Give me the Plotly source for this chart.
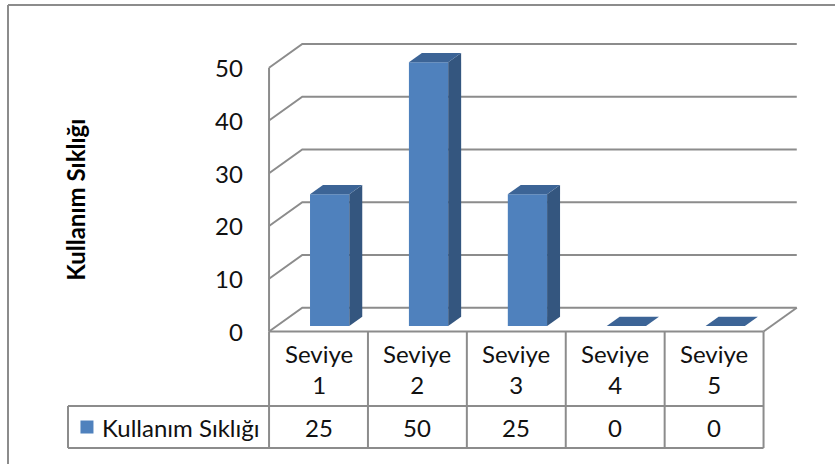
import plotly.graph_objects as go

# Data
categories = ["Seviye 1", "Seviye 2", "Seviye 3", "Seviye 4", "Seviye 5"]
values = [25, 50, 25, 0, 0]
series_name = "Kullanım Sıklığı"
y_ticks = [0, 10, 20, 30, 40, 50]
y_title = "Kullanım Sıklığı"

# Styling
FONT = "Lato"
GRID = "#8c8c8c"
FRONT = "#4f81bd"
SIDE = "#34567f"
TOP = "#3c6496"

# 3D depth vector of the walls (in axis units) and bar depth fractions
DX, DY = 0.336, 4.5
F1, F2 = 0.23, 0.62
BX, BW = -0.163, 0.397

# Axis ranges: one category per unit on x, value units on y
X_RANGE = [-3.2204, 5.2224]
Y_RANGE = [-25.11, 62.83]
X_LEFT, X_RIGHT = -0.5, len(categories) - 0.5
Y_ROW = -14.12      # separator between header row and value row
Y_BOT = -22.08      # bottom of data table
X_LEG = -2.533      # left edge of legend cell

fig = go.Figure()


def line(xs, ys, color=GRID, width=2):
    fig.add_trace(go.Scatter(x=xs, y=ys, mode="lines",
                             line=dict(color=color, width=width),
                             hoverinfo="skip", showlegend=False))


def poly(xs, ys, color):
    fig.add_trace(go.Scatter(x=xs + [xs[0]], y=ys + [ys[0]], mode="lines",
                             fill="toself", fillcolor=color,
                             line=dict(width=0, color=color),
                             hoverinfo="skip", showlegend=False))


# Walls: left wall diagonals + back wall gridlines
line([X_LEFT, X_LEFT], [0, max(y_ticks)])
for t in y_ticks:
    line([X_LEFT, X_LEFT + DX, X_RIGHT + DX], [t, t + DY, t + DY])
# Floor right edge
line([X_RIGHT, X_RIGHT + DX], [0, DY])

# Columns
ddx, ddy = (F2 - F1) * DX, (F2 - F1) * DY
for i, v in enumerate(values):
    x0 = i + BX + F1 * DX
    x1 = x0 + BW
    y0 = F1 * DY
    y1 = y0 + v
    if v > 0:
        poly([x0, x1, x1, x0], [y0, y0, y1, y1], FRONT)
        poly([x1, x1 + ddx, x1 + ddx, x1], [y0, y0 + ddy, y1 + ddy, y1], SIDE)
    poly([x0, x1, x1 + ddx, x0 + ddx], [y1, y1, y1 + ddy, y1 + ddy], TOP)

# Data table grid
line([X_LEFT, X_RIGHT], [0, 0])
for k in range(len(categories) + 1):
    line([X_LEFT + k, X_LEFT + k], [0, Y_BOT])
line([X_LEG, X_RIGHT], [Y_ROW, Y_ROW])
line([X_LEG, X_RIGHT], [Y_BOT, Y_BOT])
line([X_LEG, X_LEG], [Y_ROW, Y_BOT])

# Legend key inside the table
fig.add_trace(go.Scatter(x=[-2.341], y=[(Y_ROW + Y_BOT) / 2], mode="markers",
                         marker=dict(symbol="square", size=13, color=FRONT,
                                     line=dict(width=0)),
                         hoverinfo="skip", showlegend=False))

annotations = []
txt = dict(family=FONT, size=24, color="#111111")
for t in y_ticks:
    annotations.append(dict(x=-0.743, y=t, text=str(t), showarrow=False,
                            xanchor="right", yanchor="middle", font=txt))
for i, c in enumerate(categories):
    annotations.append(dict(x=i, y=Y_ROW / 2, text=c.replace(" ", "<br>"),
                            showarrow=False, xanchor="center",
                            yanchor="middle", font=txt))
    annotations.append(dict(x=i, y=(Y_ROW + Y_BOT) / 2, text=str(values[i]),
                            showarrow=False, xanchor="center",
                            yanchor="middle", font=txt))
annotations.append(dict(x=-2.209, y=(Y_ROW + Y_BOT) / 2, text=series_name,
                        showarrow=False, xanchor="left", yanchor="middle",
                        font=txt))
annotations.append(dict(x=-2.457, y=24.9, text="<b>" + y_title + "</b>",
                        textangle=-90, showarrow=False, xanchor="center",
                        yanchor="middle",
                        font=dict(family=FONT, size=24, color="#000000")))

# Chart frame (top and left edges)
shapes = [
    dict(type="line", xref="paper", yref="paper", x0=8 / 835, x1=1,
         y0=1 - 5 / 464, y1=1 - 5 / 464, line=dict(color=GRID, width=2)),
    dict(type="line", xref="paper", yref="paper", x0=8 / 835, x1=8 / 835,
         y0=0, y1=1 - 5 / 464, line=dict(color=GRID, width=2)),
]

fig.update_layout(
    width=835, height=464,
    margin=dict(l=0, r=0, t=0, b=0),
    paper_bgcolor="white", plot_bgcolor="white",
    xaxis=dict(range=X_RANGE, visible=False, fixedrange=True),
    yaxis=dict(range=Y_RANGE, visible=False, fixedrange=True),
    annotations=annotations, shapes=shapes,
    showlegend=False,
)

fig.write_html("out.html")
